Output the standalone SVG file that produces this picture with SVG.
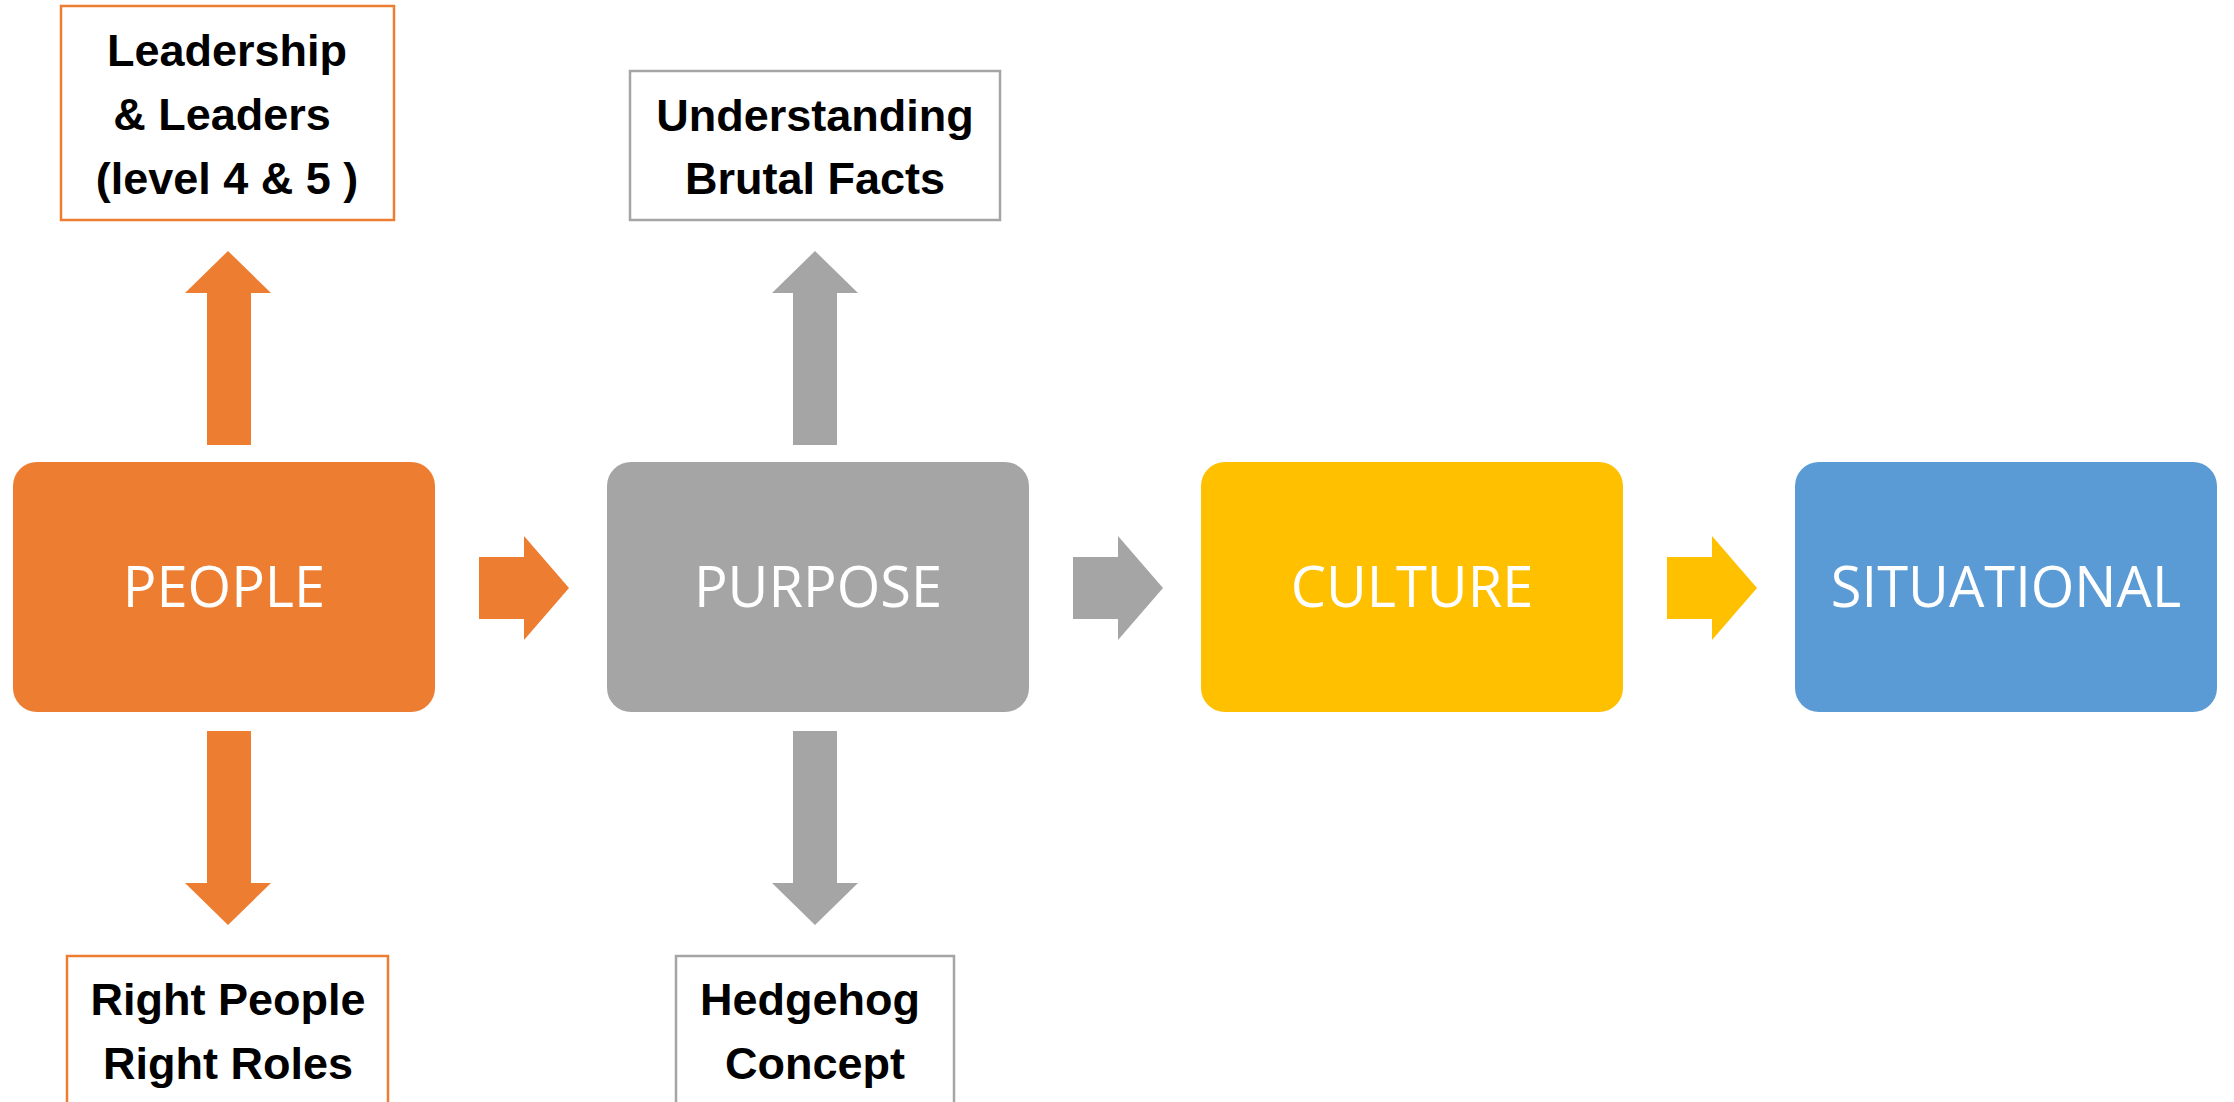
<svg xmlns="http://www.w3.org/2000/svg" width="2234" height="1102" viewBox="0 0 2234 1102">
<style>
.main{font-family:"Open Sans","Liberation Sans",sans-serif;font-size:56px;fill:#ffffff;text-anchor:middle}
.lbl{font-family:"Liberation Sans",Arial,sans-serif;font-weight:bold;font-size:45px;fill:#000000;text-anchor:middle}
.bo{fill:#ffffff;stroke:#ED7D31;stroke-width:2.5}
.bg{fill:#ffffff;stroke:#A5A5A5;stroke-width:2.5}
</style>
<rect width="2234" height="1102" fill="#ffffff"/>
<g id="connectors">
<polygon points="207,445 251,445 251,293 271,293 228,251 185,293 207,293" fill="#ED7D31"/>
<polygon points="207,731 251,731 251,883 271,883 228,925 185,883 207,883" fill="#ED7D31"/>
<polygon points="793,445 837,445 837,293 858,293 815,251 772,293 793,293" fill="#A5A5A5"/>
<polygon points="793,731 837,731 837,883 858,883 815,925 772,883 793,883" fill="#A5A5A5"/>
<polygon points="479,557 524,557 524,536 569,588 524,640 524,619 479,619" fill="#ED7D31"/>
<polygon points="1073,557 1118,557 1118,536 1163,588 1118,640 1118,619 1073,619" fill="#A5A5A5"/>
<polygon points="1667,557 1712,557 1712,536 1757,588 1712,640 1712,619 1667,619" fill="#FFC000"/>
</g>
<g id="people">
<rect x="13" y="462" width="422" height="250" rx="24" fill="#ED7D31"/>
<text class="main" x="224" y="607">PEOPLE</text>
</g>
<g id="purpose">
<rect x="607" y="462" width="422" height="250" rx="24" fill="#A5A5A5"/>
<text class="main" x="818" y="607">PURPOSE</text>
</g>
<g id="culture">
<rect x="1201" y="462" width="422" height="250" rx="24" fill="#FFC000"/>
<text class="main" x="1412" y="607">CULTURE</text>
</g>
<g id="situational">
<rect x="1795" y="462" width="422" height="250" rx="24" fill="#5B9BD5"/>
<text class="main" x="2006" y="607">SITUATIONAL</text>
</g>
<g id="leadership">
<rect class="bo" x="61" y="6" width="333" height="214"/>
<text class="lbl" x="227" y="66">Leadership</text>
<text class="lbl" x="222" y="130">&amp; Leaders</text>
<text class="lbl" x="227" y="194">(level 4 &amp; 5 )</text>
</g>
<g id="right-people">
<rect class="bo" x="67" y="956" width="321" height="160"/>
<text class="lbl" x="228" y="1015">Right People</text>
<text class="lbl" x="228" y="1079">Right Roles</text>
</g>
<g id="brutal-facts">
<rect class="bg" x="630" y="71" width="370" height="149"/>
<text class="lbl" x="815" y="131">Understanding</text>
<text class="lbl" x="815" y="194">Brutal Facts</text>
</g>
<g id="hedgehog">
<rect class="bg" x="676" y="956" width="278" height="160"/>
<text class="lbl" x="810" y="1015">Hedgehog</text>
<text class="lbl" x="815" y="1079">Concept</text>
</g>
</svg>
